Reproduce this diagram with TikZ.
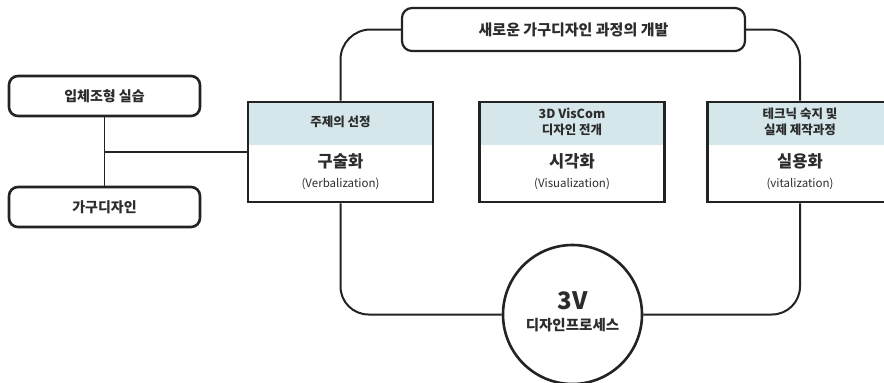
\documentclass[tikz,border=0pt]{standalone}
\usepackage{fontspec}
\setmainfont{Noto Sans CJK KR}
\usetikzlibrary{positioning}
\definecolor{headblue}{HTML}{D5E7EB}
\definecolor{ink}{HTML}{232323}
\definecolor{txt}{HTML}{2C2C2C}
\tikzset{
  stagebox/.style={draw=ink, line width=2.6pt, minimum width=185pt, minimum height=100pt, inner sep=0pt,
    path picture={\fill[headblue] (path picture bounding box.north west) rectangle ([yshift=-43pt]path picture bounding box.north east);}},
  headtext/.style={text=txt, align=center, font=\fontsize{12.5}{16}\selectfont\bfseries},
  titletext/.style={text=txt, font=\fontsize{16.5}{18}\selectfont\bfseries},
  subtext/.style={text=txt, font=\fontsize{11.5}{14}\selectfont},
  sidebox/.style={draw=ink, line width=2.6pt, rounded corners=9pt, minimum width=191pt, minimum height=40pt,
    text=txt, font=\fontsize{14}{16}\selectfont\bfseries},
  topbox/.style={draw=ink, line width=2.2pt, rounded corners=10pt, minimum width=343pt, minimum height=43pt,
    text=txt, font=\fontsize{15}{17}\selectfont\bfseries},
  hub/.style={circle, draw=ink, line width=2.6pt, fill=white, minimum size=139pt},
  hubtext/.style={text=txt, inner sep=0pt, font=\fontsize{14.5}{16}\selectfont\bfseries},
  link/.style={draw=ink, line width=2pt},
  thinlink/.style={draw=ink, line width=1.3pt},
}
\begin{document}
\begin{tikzpicture}[x=1pt, y=-1pt]
\useasboundingbox (0,0) rectangle (884,383);
% three stages
\node[stagebox] (verbal) at (340.5,152) {}; % Stage.verbal
\node[stagebox] (visual) at (572,152) {}; % Stage.visual
\node[stagebox] (vital) at (800,152) {}; % Stage.vital
\node[headtext] (verbalhead) at ([yshift=-21.5pt]verbal.north) {주제의 선정};
\node[headtext] (visualhead) at ([yshift=-21.5pt]visual.north) {3D VisCom\\디자인 전개};
\node[headtext] (vitalhead) at ([yshift=-21.5pt]vital.north) {테크닉 숙지 및\\실제 제작과정};
\node[titletext] (verbaltitle) at ([yshift=-61pt]verbal.north) {구술화};
\node[titletext] (visualtitle) at ([yshift=-61pt]visual.north) {시각화};
\node[titletext] (vitaltitle) at ([yshift=-61pt]vital.north) {실용화};
\node[subtext] (verbalsub) at ([yshift=-83pt]verbal.north) {(Verbalization)};
\node[subtext] (visualsub) at ([yshift=-83pt]visual.north) {(Visualization)};
\node[subtext] (vitalsub) at ([yshift=-83pt]vital.north) {(vitalization)};
% top goal and hub
\node[topbox] (goal) at (573.5,29.5) {새로운 가구디자인 과정의 개발}; % Goal
\node[hub] (process) at (572.5,314.5) {}; % Hub
\node[hubtext, font=\fontsize{24}{28}\selectfont\bfseries] (hubmark) at (572.5,301) {3V};
\node[hubtext] (hubname) at (572.5,325) {디자인프로세스};
% inputs on the left
\node[sidebox] (solid) at (104.5,96) {입체조형 실습}; % Input.solid
\node[sidebox] (furniture) at (104.5,207) {가구디자인}; % Input.furniture
\coordinate (join) at (solid.south |- verbal.west);
% connectors
\draw[link, rounded corners=30pt] (goal.west) -| (verbal.north);
\draw[link, rounded corners=30pt] (goal.east) -| (vital.north);
\draw[link, rounded corners=28pt] (verbal.south) |- (process.west);
\draw[link, rounded corners=28pt] (vital.south) |- (process.east);
\draw[thinlink] (solid.south) -- (furniture.north);
\draw[thinlink] (join) -- (verbal.west);
\end{tikzpicture}
\end{document}
